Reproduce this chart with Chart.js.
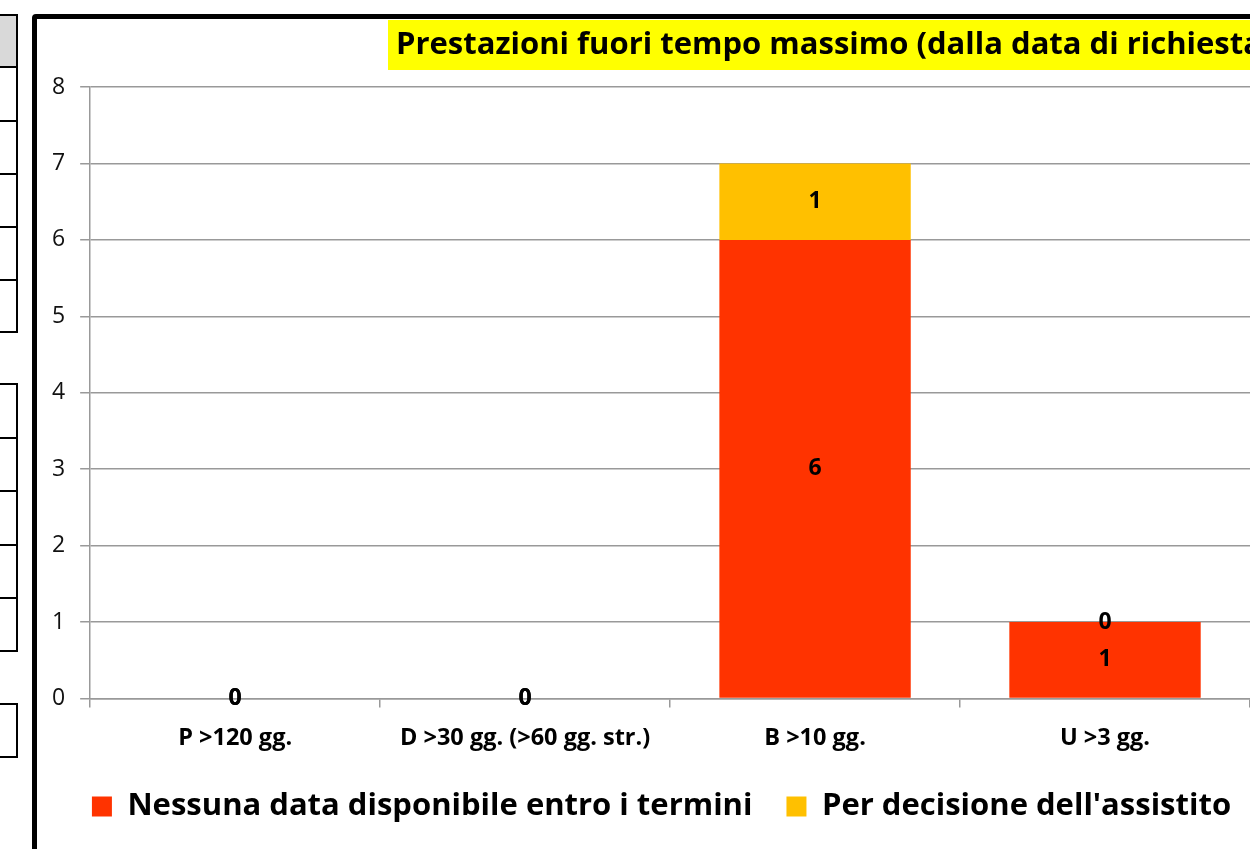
<!DOCTYPE html>
<html>
<head>
<meta charset="utf-8">
<script src="https://cdn.jsdelivr.net/npm/chart.js@4.4.1/dist/chart.umd.min.js"></script>
<style>
  html, body { margin: 0; padding: 0; background: #fff; width: 1250px; height: 849px; overflow: hidden; }
  .blk { position: absolute; left: -6px; width: 24px; border: 2px solid #000; box-sizing: border-box; background: #fff; }
  .line { position: absolute; left: -6px; width: 24px; height: 2px; background: #000; }
  .head { position: absolute; left: 0; width: 16px; background: #d9d9d9; }
  #frame { position: absolute; left: 32px; top: 14px; width: 1400px; height: 900px; border: 5px solid #000; border-radius: 4px; background: #fff; }
  #wrap { position: absolute; left: 37px; top: 19px; }
</style>
</head>
<body>
<div id="frame"></div>
<div id="wrap"><canvas id="chart" width="1213" height="830"></canvas></div>
<script>
// categories and series
const categories = ["P >120 gg.", "D >30 gg. (>60 gg. str.)", "B >10 gg.", "U >3 gg."];
const nessunaData = [0, 0, 6, 1];
const perDecisione = [0, 0, 1, 0];
const seriesNames = ["Nessuna data disponibile entro i termini", "Per decisione dell'assistito"];
const chartTitle = "Prestazioni fuori tempo massimo (dalla data di richiesta)";

//bits of the spreadsheet table on the left
const tableBlocks = [
  [14, 66, 120, 173, 226, 279, 331],
  [383, 437, 490, 544, 597, 650],
  [703, 756],
];
tableBlocks.forEach((rows, b) => {
  const blk = document.createElement("div");
  blk.className = "blk";
  blk.style.top = rows[0] + "px";
  blk.style.height = (rows[rows.length - 1] - rows[0] + 2) + "px";
  document.body.appendChild(blk);
  if (b == 0) {
    const h = document.createElement("div");
    h.className = "head";
    h.style.top = (rows[0] + 2) + "px";
    h.style.height = (rows[1] - rows[0] - 2) + "px";
    document.body.appendChild(h);
  }
  rows.slice(1, -1).forEach((y) => {
    const l = document.createElement("div");
    l.className = "line";
    l.style.top = y + "px";
    document.body.appendChild(l);
  });
});

//yellow title box
const titleBox = {
  id: "titleBox",
  beforeDraw(chart) {
    const ctx = chart.ctx;
    ctx.save();
    ctx.fillStyle = "#ffff00";
    ctx.fillRect(351, 1, chart.width - 351, 50);
    ctx.fillStyle = "#000";
    ctx.font = "bold 31px 'Open Sans'";
    ctx.textBaseline = "middle";
    ctx.fillText(chartTitle, 359, 26);
    ctx.restore();
  },
};

//value labels inside the bars
const valueLabels = {
  id: "valueLabels",
  afterDatasetsDraw(chart) {
    const ctx = chart.ctx;
    ctx.save();
    ctx.font = "bold 23px 'Open Sans'";
    ctx.fillStyle = "#000";
    ctx.textAlign = "center";
    ctx.textBaseline = "middle";
    chart.data.datasets.forEach((ds, i) => {
      chart.getDatasetMeta(i).data.forEach((bar, j) => {
        ctx.fillText(ds.data[j], bar.x, (bar.y + bar.base) / 2);
      });
    });
    ctx.restore();
  },
};

//legend sits a bit higher and more to the right than chart.js puts it
const legendNudge = {
  id: "legendNudge",
  afterLayout(chart) {
    const lg = chart.legend;
    lg.left += 18; lg.right += 18;
    lg.top -= 12; lg.bottom -= 12;
  },
};

new Chart(document.getElementById("chart"), {
  type: "bar",
  plugins: [titleBox, valueLabels, legendNudge],
  data: {
    labels: categories,
    datasets: [
      { label: seriesNames[0], data: nessunaData, backgroundColor: "#ff3300", borderWidth: 0 },
      { label: seriesNames[1], data: perDecisione, backgroundColor: "#ffc000", borderWidth: 0 },
    ],
  },
  options: {
    responsive: false,
    animation: false,
    devicePixelRatio: 1,
    barPercentage: 0.66,
    categoryPercentage: 1,
    layout: { padding: { top: 68, left: 0, right: 0, bottom: 5 } },
    scales: {
      x: {
        stacked: true,
        grid: { drawOnChartArea: false, tickLength: 9, color: "#999", lineWidth: 1.5 },
        border: { color: "#999", width: 1.5 },
        ticks: { color: "#000", padding: 19, font: { family: "Open Sans", weight: "bold", size: 23.5, lineHeight: 1 } },
      },
      y: {
        stacked: true,
        min: 0,
        max: 8,
        grid: { tickLength: 10, color: "#999", lineWidth: 1.5 },
        border: { color: "#999", width: 1.5 },
        ticks: { stepSize: 1, color: "#111", padding: 15, font: { family: "Open Sans", size: 23 } },
      },
    },
    plugins: {
      tooltip: { enabled: false },
      legend: {
        position: "bottom",
        labels: {
          boxWidth: 20,
          boxHeight: 20,
          padding: 34,
          color: "#000",
          font: { family: "Open Sans", weight: "bold", size: 31 },
        },
      },
    },
  },
});
</script>
</body>
</html>
